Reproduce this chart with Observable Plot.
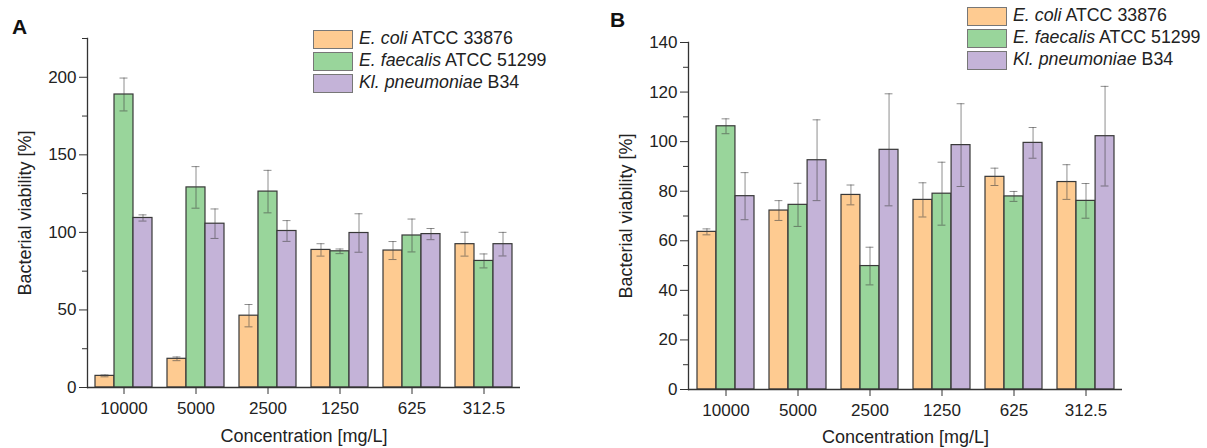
<!DOCTYPE html>
<html><head><meta charset="utf-8">
<script src="https://cdn.jsdelivr.net/npm/d3@7"></script>
<script src="https://cdn.jsdelivr.net/npm/@observablehq/plot@0.6"></script>
<style>
body{margin:0;background:#fff;font-family:"Liberation Sans",Arial,sans-serif;}
#root{position:relative;width:1207px;height:448px;overflow:hidden;background:#fff}
.panel{position:absolute;top:0}
.legend{position:absolute;font-size:17.8px;color:#222;line-height:1}
.legend .row{display:flex;align-items:center;height:22px}
.sw{width:40px;height:19px;border:1px solid #777;margin-right:6px;box-sizing:border-box}
.plabel{position:absolute;font-weight:bold;font-size:21px;line-height:21px;color:#111}
</style></head><body><div id="root"></div>
<script>
// ---- data ----
const concentrations = ["10000","5000","2500","1250","625","312.5"];
const seriesNames = ["E. coli ATCC 33876","E. faecalis ATCC 51299","Kl. pneumoniae B34"];
const seriesItalic = ["E. coli","E. faecalis","Kl. pneumoniae"];
const seriesRest = ["ATCC 33876","ATCC 51299","B34"];
const colors = ["#FECB91","#99D59B","#C4B3D8"];
const xTitle = "Concentration [mg/L]";
const yTitle = "Bacterial viability [%]";

// Panel A
const aEcoli = [7.5,18.5,46.3,88.7,88.3,92.4];
const aEcoliErr = [0.6,1.2,7.2,4.0,5.8,7.7];
const aFaecalis = [188.9,129.0,126.3,87.8,98.0,81.6];
const aFaecalisErr = [10.6,13.4,13.7,1.5,10.6,4.5];
const aKleb = [109.3,105.6,100.9,99.6,98.9,92.4];
const aKlebErr = [2.0,9.5,6.7,12.4,3.6,7.6];
const aMajorTicks = [0,50,100,150,200];
const aMinorTicks = [25,75,125,175,225];

// Panel B
const bEcoli = [63.6,72.2,78.5,76.5,85.8,83.7];
const bEcoliErr = [1.2,4.0,4.0,6.9,3.5,7.0];
const bFaecalis = [106.2,74.5,49.8,79.0,77.9,76.1];
const bFaecalisErr = [3.0,8.7,7.6,12.7,2.0,7.0];
const bKleb = [78.0,92.5,96.7,98.6,99.5,102.2];
const bKlebErr = [9.5,16.3,22.6,16.7,6.2,20.1];
const bMajorTicks = [0,20,40,60,80,100,120,140];
const bMinorTicks = [10,30,50,70,90,110,130];

function panel(o) {
  const data = [];
  seriesNames.forEach((s, j) => concentrations.forEach((c, i) =>
    data.push({conc: c, series: s, j, value: o.vals[j][i], err: o.errs[j][i]})));
  const pi = 0.21, po = 0.105;
  const innerW = o.width - o.mL - o.mR;
  const step = innerW / (concentrations.length - pi + 2 * po);
  const bw = step * (1 - pi);
  const third = bw / 3;
  const cap = 4;
  const marks = [];
  seriesNames.forEach((s, j) => {
    const d = data.filter(e => e.j === j);
    marks.push(Plot.barY(d, {x: "conc", y: "value", fill: colors[j], stroke: "#383838", strokeWidth: 1.2,
      insetLeft: j * third, insetRight: (2 - j) * third}));
  });
  seriesNames.forEach((s, j) => {
    const d = data.filter(e => e.j === j);
    const off = (j - 1) * third;
    const st = {stroke: "#444", strokeOpacity: 0.6, strokeWidth: 1};
    marks.push(Plot.ruleX(d, {x: "conc", y1: e => e.value - e.err, y2: e => e.value + e.err, dx: off, ...st}));
    for (const f of [e => e.value - e.err, e => e.value + e.err]) {
      marks.push(Plot.tickY(d, {x: "conc", y: f, insetLeft: bw / 2 + off - cap, insetRight: bw / 2 - off - cap, ...st}));
    }
  });
  marks.push(Plot.ruleY([0], {stroke: "#333", strokeWidth: 1.3}));
  marks.push(Plot.frame({anchor: "left", stroke: "#333", strokeWidth: 1.3}));
  marks.push(Plot.axisY({ticks: o.major, tickSize: 8, tickPadding: 3, fontSize: 17, label: null, stroke: "#333", fill: "#222"}));
  marks.push(Plot.axisY({ticks: o.minor, tickSize: 5, tickFormat: () => "", label: null, stroke: "#333"}));
  marks.push(Plot.axisX({tickSize: 7, tickPadding: 7, fontSize: 17, label: null, stroke: "#333", fill: "#222"}));
  marks.push(Plot.text([yTitle], {text: d => d, frameAnchor: "left", dx: -62, rotate: -90, textAnchor: "middle", lineAnchor: "middle", fontSize: 18, fill: "#222"}));
  marks.push(Plot.text([xTitle], {text: d => d, frameAnchor: "bottom", dy: o.titleDy, textAnchor: "middle", lineAnchor: "middle", fontSize: 18, fill: "#222"}));
  return Plot.plot({
    width: o.width, height: 448,
    marginLeft: o.mL, marginRight: o.mR, marginTop: o.mT, marginBottom: o.mB,
    x: {type: "band", domain: concentrations, paddingInner: pi, paddingOuter: po},
    y: {domain: [0, o.yMax]},
    style: {fontFamily: "Liberation Sans, Arial, sans-serif", fontSize: "17px", color: "#222", background: "transparent", overflow: "visible"},
    marks
  });
}

const root = document.getElementById("root");
function place(el, left) { const w = document.createElement("div"); w.className = "panel"; w.style.left = left + "px"; w.appendChild(el); root.appendChild(w); }

place(panel({vals: [aEcoli, aFaecalis, aKleb], errs: [aEcoliErr, aFaecalisErr, aKlebErr], yMax: 225,
  major: aMajorTicks, minor: aMinorTicks, width: 600, mL: 87, mR: 80, mT: 38, mB: 61, titleDy: 49}), 0);
place(panel({vals: [bEcoli, bFaecalis, bKleb], errs: [bEcoliErr, bFaecalisErr, bKlebErr], yMax: 140,
  major: bMajorTicks, minor: bMinorTicks, width: 607, mL: 88, mR: 85, mT: 42, mB: 59, titleDy: 48}), 600);

function legend(left, top) {
  const lg = document.createElement("div");
  lg.className = "legend"; lg.style.left = left + "px"; lg.style.top = top + "px";
  seriesNames.forEach((s, j) => {
    const r = document.createElement("div"); r.className = "row";
    const sw = document.createElement("div"); sw.className = "sw"; sw.style.background = colors[j];
    const t = document.createElement("span");
    const it = document.createElement("i"); it.textContent = seriesItalic[j];
    t.appendChild(it); t.appendChild(document.createTextNode(" " + seriesRest[j]));
    r.appendChild(sw); r.appendChild(t); lg.appendChild(r);
  });
  root.appendChild(lg);
}
legend(313, 28);
legend(967, 5);

function plabel(txt, left, top) { const d = document.createElement("div"); d.className = "plabel"; d.textContent = txt; d.style.left = left + "px"; d.style.top = top + "px"; root.appendChild(d); }
plabel("A", 12, 16);
plabel("B", 610, 9);
</script></body></html>
